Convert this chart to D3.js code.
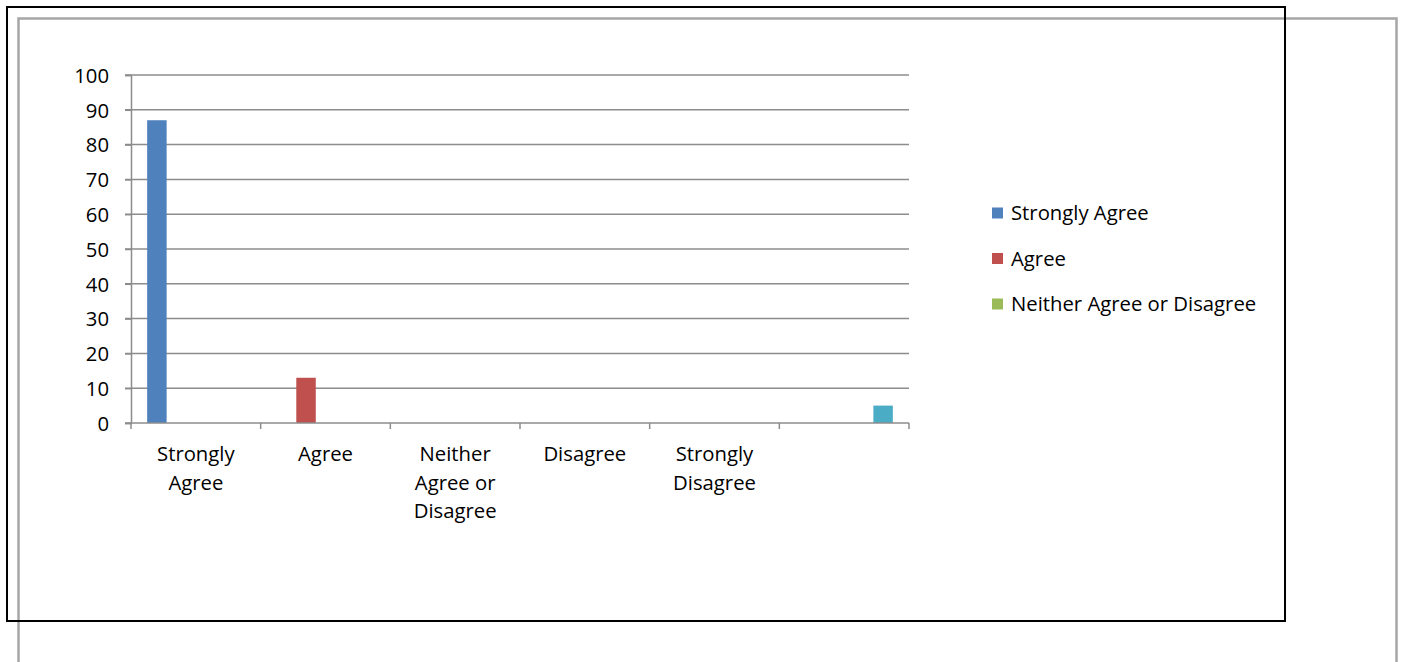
<!DOCTYPE html>
<html>
<head>
<meta charset="utf-8">
<script src="https://cdn.jsdelivr.net/npm/d3@7/dist/d3.min.js"></script>
<style>
  html, body { margin: 0; padding: 0; background: #fff; }
  svg { display: block; }
  text { font-family: "Open Sans", Lato, sans-serif; fill: #000; }
</style>
</head>
<body>
<svg id="chart" width="1405" height="662"></svg>
<script>
// Response categories along the x axis (last slot unlabeled)
const categories = ["Strongly Agree", "Agree", "Neither Agree or Disagree", "Disagree", "Strongly Disagree", ""];
// Wrapped label lines for each category
const categoryLines = [["Strongly", "Agree"], ["Agree"], ["Neither", "Agree or", "Disagree"], ["Disagree"], ["Strongly", "Disagree"], []];
// One series per response; null = no bar in that category
const seriesNames = ["Strongly Agree", "Agree", "Neither Agree or Disagree", "Disagree", "Strongly Disagree"];
const strongAgreeValues   = [87, null, null, null, null, null];
const agreeValues         = [null, 13, null, null, null, null];
const neitherValues       = [null, null, null, null, null, null];
const disagreeValues      = [null, null, null, null, null, null];
const strongDisagreeValues = [null, null, null, null, null, 5];
const seriesColors = ["#4F81BD", "#C0504D", "#9BBB59", "#8064A2", "#4BACC6"];
const yTicks = [0, 10, 20, 30, 40, 50, 60, 70, 80, 90, 100];
// Legend shows only the first three series
const legendNames = seriesNames.slice(0, 3);

const seriesValues = [strongAgreeValues, agreeValues, neitherValues, disagreeValues, strongDisagreeValues];

const svg = d3.select("#chart");
const fontSize = 20.3;

// Outer frames
svg.append("rect").attr("x", 18.5).attr("y", 18.5).attr("width", 1378).attr("height", 700)
  .attr("fill", "none").attr("stroke", "#a6a6a6").attr("stroke-width", 2.5);
svg.append("rect").attr("x", 7).attr("y", 7).attr("width", 1278).attr("height", 614)
  .attr("fill", "none").attr("stroke", "#000").attr("stroke-width", 2);

const plotLeft = 131, plotRight = 909, plotTop = 75, plotBottom = 423;

const x = d3.scaleBand().domain(d3.range(categories.length)).range([plotLeft, plotRight]).paddingInner(0).paddingOuter(0);
const xs = d3.scaleBand().domain(d3.range(seriesNames.length)).range([0, x.bandwidth()])
  .paddingInner(0).paddingOuter(0.83);
const y = d3.scaleLinear().domain([0, 100]).range([plotBottom, plotTop]);

const gridColor = "#8c8c8c";

// Horizontal gridlines with left tick stubs
const grid = svg.append("g");
grid.selectAll("line").data(yTicks.filter(d => d > 0)).join("line")
  .attr("x1", plotLeft - 6).attr("x2", plotRight)
  .attr("y1", d => y(d)).attr("y2", d => y(d))
  .attr("stroke", gridColor).attr("stroke-width", 1.5);

// Y axis
const yAxis = d3.axisLeft(y).tickValues(yTicks).tickSize(6).tickPadding(16);
const gy = svg.append("g").attr("transform", `translate(${plotLeft},0)`).call(yAxis);
gy.select(".domain").attr("stroke", gridColor).attr("stroke-width", 1.5);
gy.selectAll(".tick line").attr("stroke", gridColor).attr("stroke-width", 1.5);
gy.selectAll(".tick text").attr("font-size", fontSize).attr("font-family", "'Open Sans', sans-serif").attr("fill", "#000")
  .attr("dy", "0.36em");

// Bars
const barData = [];
seriesValues.forEach((vals, s) => vals.forEach((v, c) => { if (v != null) barData.push({ s, c, v }); }));
svg.append("g").selectAll("rect").data(barData).join("rect")
  .attr("x", d => x(d.c) + xs(d.s))
  .attr("width", xs.bandwidth())
  .attr("y", d => y(d.v))
  .attr("height", d => y(0) - y(d.v))
  .attr("fill", d => seriesColors[d.s]);

// X axis with boundary ticks between categories
const gx = svg.append("g");
gx.append("line").attr("x1", plotLeft - 6).attr("x2", plotRight).attr("y1", plotBottom).attr("y2", plotBottom)
  .attr("stroke", gridColor).attr("stroke-width", 1.5);
const bounds = d3.range(categories.length + 1).map(i => i < categories.length ? x(i) : plotRight);
gx.selectAll("line.b").data(bounds).join("line").attr("class", "b")
  .attr("x1", d => d).attr("x2", d => d).attr("y1", plotBottom).attr("y2", plotBottom + 6)
  .attr("stroke", gridColor).attr("stroke-width", 1.5);

// Category labels (wrapped)
const labels = svg.append("g");
categoryLines.forEach((lines, i) => {
  const t = labels.append("text").attr("text-anchor", "middle").attr("font-size", fontSize);
  lines.forEach((ln, k) => {
    t.append("tspan").attr("x", x(i) + x.bandwidth() / 2).attr("y", 461 + k * 28.5).text(ln);
  });
});

// Legend
const legend = svg.append("g");
legendNames.forEach((name, i) => {
  const cy = 213 + i * 45.5;
  legend.append("rect").attr("x", 992).attr("y", cy - 5.5).attr("width", 11).attr("height", 11)
    .attr("fill", seriesColors[i]);
  legend.append("text").attr("x", 1011).attr("y", cy + 7).attr("font-size", fontSize).text(name);
});
</script>
</body>
</html>
